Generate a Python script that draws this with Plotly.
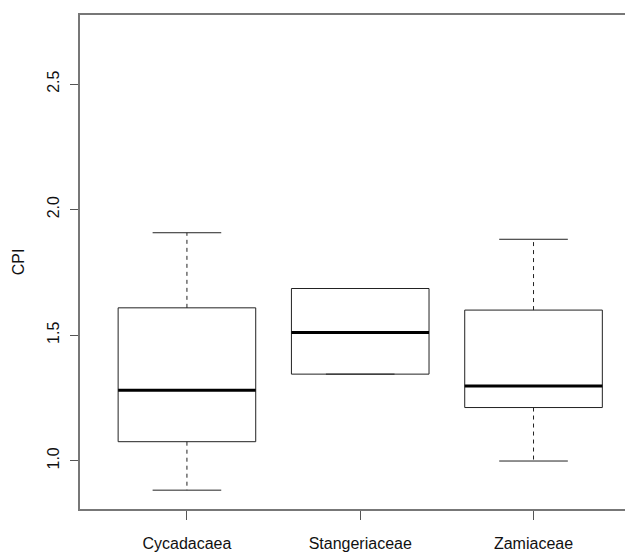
import plotly.graph_objects as go

# ---- data ----
families = ["Cycadacaea", "Stangeriaceae", "Zamiaceae"]
lower_whisker = [0.883, 1.345, 0.999]
q1 = [1.076, 1.345, 1.212]
median = [1.281, 1.511, 1.298]
q3 = [1.609, 1.686, 1.600]
upper_whisker = [1.908, 1.686, 1.882]
y_ticks = [1.0, 1.5, 2.0, 2.5]

BOX_HALF = 0.397     # half box width (x units)
CAP_HALF = 0.198     # half staple width
FONT = "Liberation Sans, Arial, sans-serif"

pos = list(range(1, len(families) + 1))

box_x, box_y = [], []
med_x, med_y = [], []
wh_x, wh_y = [], []
cap_x, cap_y = [], []
for p, lo, a, m, b, hi in zip(pos, lower_whisker, q1, median, q3, upper_whisker):
    box_x += [p - BOX_HALF, p + BOX_HALF, p + BOX_HALF, p - BOX_HALF, p - BOX_HALF, None]
    box_y += [a, a, b, b, a, None]
    med_x += [p - BOX_HALF, p + BOX_HALF, None]
    med_y += [m, m, None]
    wh_x += [p, p, None, p, p, None]
    wh_y += [b, hi, None, a, lo, None]
    cap_x += [p - CAP_HALF, p + CAP_HALF, None, p - CAP_HALF, p + CAP_HALF, None]
    cap_y += [hi, hi, None, lo, lo, None]

fig = go.Figure()
fig.add_trace(go.Scatter(x=wh_x, y=wh_y, mode="lines",
                         line=dict(color="#222222", width=1, dash="4px,4px"),
                         hoverinfo="skip"))
fig.add_trace(go.Scatter(x=cap_x, y=cap_y, mode="lines",
                         line=dict(color="#222222", width=1), hoverinfo="skip"))
fig.add_trace(go.Scatter(x=box_x, y=box_y, mode="lines",
                         line=dict(color="#222222", width=1), hoverinfo="skip"))
fig.add_trace(go.Scatter(x=med_x, y=med_y, mode="lines",
                         line=dict(color="#000000", width=3), hoverinfo="skip"))

fig.update_layout(
    width=625, height=544,
    margin=dict(l=72, r=0, t=7, b=43, autoexpand=False),
    paper_bgcolor="white", plot_bgcolor="white",
    showlegend=False,
    font=dict(family=FONT, size=16, color="#111111"),
    xaxis=dict(
        range=[0.383, 3.574], automargin=False,
        tickmode="array", tickvals=pos, ticktext=families,
        showgrid=False, zeroline=False,
        showline=True, linecolor="#777777", linewidth=1.5, mirror=True,
        ticks="outside", ticklen=9, tickcolor="#555555",
        tickfont=dict(size=16, color="#111111"),
        ticklabelstandoff=10,
    ),
    yaxis=dict(
        range=[0.808, 2.775], automargin=False,
        tickmode="array", tickvals=y_ticks,
        ticktext=[f"{v:.1f}" for v in y_ticks],
        tickangle=-90,
        showgrid=False, zeroline=False,
        showline=True, linecolor="#777777", linewidth=1.5,
        ticks="outside", ticklen=8, tickcolor="#555555",
        tickfont=dict(size=16, color="#111111"),
        ticklabelstandoff=5,
        title=dict(text="CPI", font=dict(size=16, color="#111111"), standoff=16),
    ),
)

fig.write_html("out.html")
